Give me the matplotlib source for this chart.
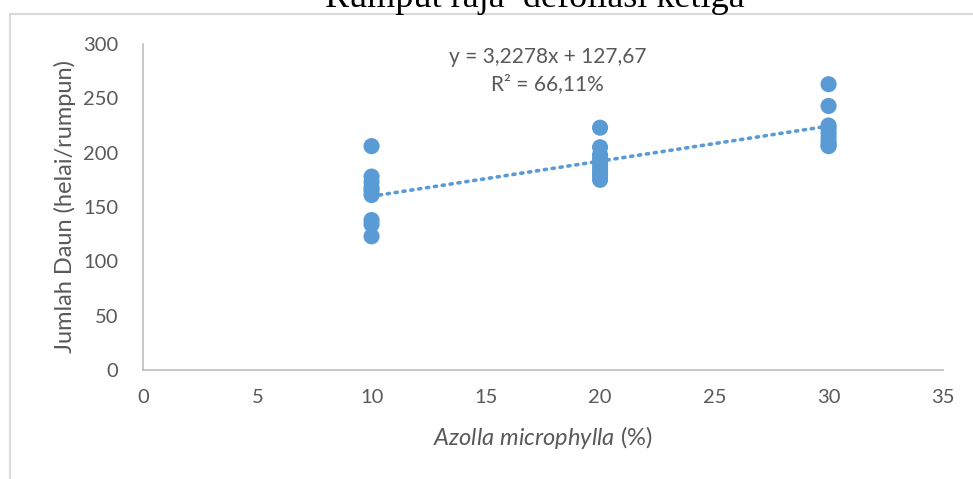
import matplotlib
matplotlib.use("Agg")
import matplotlib.pyplot as plt
from matplotlib.lines import Line2D
import numpy as np

plt.rcParams["font.family"] = ["Lato", "DejaVu Sans"]
plt.rcParams["mathtext.fontset"] = "custom"
plt.rcParams["mathtext.it"] = "Lato:italic"
plt.rcParams["mathtext.rm"] = "Lato"

# data
dose_10 = [206, 178, 173, 168, 165, 161, 138, 134, 123]
dose_20 = [223, 205, 198, 194, 190, 186, 182, 179, 175]
dose_30 = [263, 243, 225, 222, 218, 214, 210, 207, 206]
doses = [10, 20, 30]
slope, intercept = 3.2278, 127.67
r2_text = "66,11%"

blue = "#5B9BD5"
grey = "#595959"

fig = plt.figure(figsize=(9.73, 4.79), dpi=100)
fig.patch.set_facecolor("white")
ax = fig.add_axes([0.147, 0.2276, 0.822, 0.6805])

for d, vals in zip(doses, [dose_10, dose_20, dose_30]):
    ax.scatter([d] * len(vals), vals, s=135, color=blue, edgecolors="none", zorder=3)

xs = np.array([min(doses), max(doses)])
ax.plot(xs, slope * xs + intercept, color=blue, lw=2.6, ls=(0, (0.6, 1.6)),
        dash_capstyle="round", zorder=2)

ax.set_xlim(0, 35)
ax.set_ylim(0, 300)
ax.set_xticks(range(0, 36, 5))
ax.set_yticks(range(0, 301, 50))
ax.tick_params(length=0, labelsize=14.5, colors=grey)
ax.tick_params(axis="x", pad=14)
ax.tick_params(axis="y", pad=18)
for s in ["top", "right"]:
    ax.spines[s].set_visible(False)
for s in ["left", "bottom"]:
    ax.spines[s].set_color("#BFBFBF")
    ax.spines[s].set_linewidth(1.2)

ax.set_ylabel("Jumlah Daun (helai/rumpun)", fontsize=17, color=grey, labelpad=5)
ax.set_xlabel(r"$\mathit{Azolla\ microphylla}$ (%)", fontsize=17, color=grey, labelpad=13)

ax.text(17.7, 288, f"y = {str(slope).replace('.', ',')}x + {str(intercept).replace('.', ',')}",
        ha="center", va="center", fontsize=15, color=grey)
ax.text(17.7, 263, f"R² = {r2_text}", ha="center", va="center", fontsize=15, color=grey)

# outer chart frame (partly visible)
fig.add_artist(Line2D([10 / 973, 1], [1 - 14 / 479, 1 - 14 / 479], color="#D9D9D9", lw=1.5))
fig.add_artist(Line2D([10 / 973, 10 / 973], [0, 1 - 14 / 479], color="#D9D9D9", lw=1.5))

# cut-off heading from the page above
fig.text(535 / 973, 1 - 7 / 479, "Rumput raja\u2019 defoliasi ketiga", ha="center",
         va="baseline", fontsize=26, family="Liberation Serif", color="black")

fig.savefig("out.png", dpi=100)
